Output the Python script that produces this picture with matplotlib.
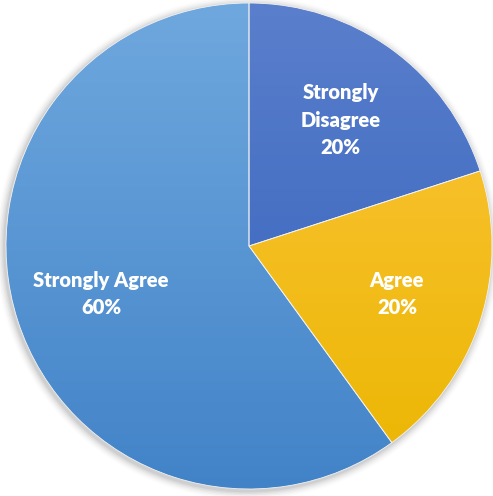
import numpy as np
import matplotlib.pyplot as plt
from matplotlib.colors import LinearSegmentedColormap
from matplotlib.patches import Circle

categories = ['Strongly Disagree', 'Agree', 'Strongly Agree']
display_labels = ['Strongly\nDisagree', 'Agree', 'Strongly Agree']
values = [20, 20, 60]
# top / bottom colours of the vertical gradient in each slice
grad_top = ['#5a7fcc', '#fdc53f', '#6fa8de']
grad_bot = ['#305fba', '#ebb600', '#4283c8']
base_colors = ['#4472c4', '#ffc000', '#5b9bd5']

W, H = 493, 496
R = 243.0
cx, cy = 249, 246

fig = plt.figure(figsize=(W / 100, H / 100), dpi=100)
ax = fig.add_axes([0, 0, 1, 1])
ax.set_aspect('equal')
ax.axis('off')

# soft shadow
for i, a in enumerate(np.linspace(0.05, 0.012, 6)):
    ax.add_patch(Circle((-0.006, -0.008), 1.0 + 0.006 * (i + 1), color='black',
                        alpha=a, lw=0, zorder=0))

wedges, texts, autotexts = ax.pie(values, startangle=90, counterclock=False,
                                  colors=base_colors, autopct='%1.0f%%',
                                  pctdistance=0.64, radius=1.0,
                                  wedgeprops=dict(edgecolor='#f2f2f2', linewidth=0.6),
                                  textprops=dict(color='white', fontsize=14.5,
                                                 fontweight='heavy', family='Lato'))

for w, top, bot in zip(wedges, grad_top, grad_bot):
    cmap = LinearSegmentedColormap.from_list('g', [bot, top])
    grad = np.linspace(0, 1, 256).reshape(-1, 1)
    im = ax.imshow(grad, cmap=cmap, origin='lower', extent=[-1, 1, -1, 1],
                   aspect='auto', zorder=w.get_zorder() + 0.1)
    im.set_clip_path(w)

for w in wedges:
    w.set_zorder(w.get_zorder() + 0.2)
    w.set_facecolor('none')

ax.set_xlim(-cx / R, (W - cx) / R)
ax.set_ylim(-(H - cy) / R, cy / R)

for t, lab, v in zip(autotexts, display_labels, values):
    t.set_text(f'{lab}\n{v}%')
    t.set_linespacing(1.55)
    t.set_zorder(10)

fig.savefig('out.png', dpi=100)
